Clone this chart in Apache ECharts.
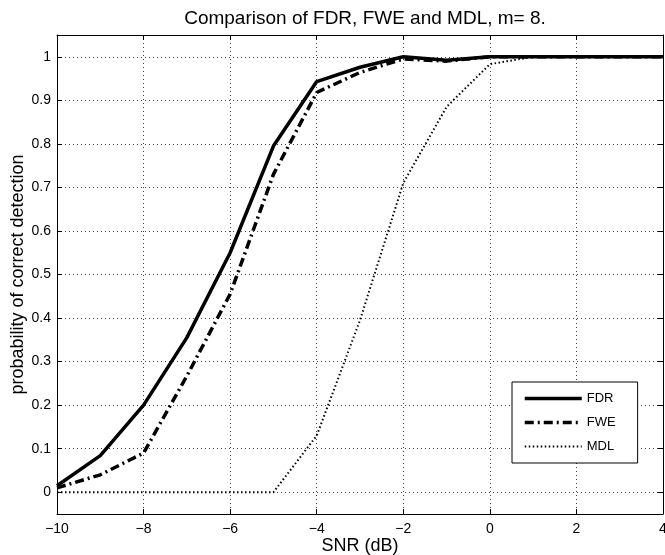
<!DOCTYPE html>
<html><head><meta charset="utf-8">
<script src="https://cdn.jsdelivr.net/npm/echarts@6/dist/echarts.min.js"></script>
<style>html,body{margin:0;padding:0;background:#fff}#c{width:665px;height:555px}</style>
</head><body><div id="c"></div>
<script>
const snr = [-10,-9,-8,-7,-6,-5,-4,-3,-2,-1,0,1,2,3,4];
const fdr = [0.015,0.084,0.2,0.355,0.55,0.795,0.943,0.976,1.0,0.992,1,1,1,1,1];
const fwe = [0.01,0.04,0.09,0.267,0.455,0.73,0.918,0.964,0.995,0.99,1,1,1,1,1];
const mdl = [0,0,0,0,0,0,0.13,0.395,0.71,0.885,0.983,1,1,1,1];
const xTicks = [-10,-8,-6,-4,-2,0,2,4];
const yTicks = [0,0.1,0.2,0.3,0.4,0.5,0.6,0.7,0.8,0.9,1];
const seriesNames = ['FDR','FWE','MDL'];

const FONT = 'Liberation Sans, Arial, Helvetica, sans-serif';
const pair = ys => snr.map((x,i)=>[x, ys[i]]);
const grid = {type:[1,3], color:'#444', width:1};
const fmtNum = v => String(v).replace('-', '\u2212');
const styles = [
  {color:'#000', width:3.5, type:'solid'},
  {color:'#000', width:3.5, type:[9,4,2,4]},
  {color:'#000', width:2, type:[1.5,2.5]}
];

const chart = echarts.init(document.getElementById('c'), null, {renderer:'canvas'});
chart.setOption({
  animation:false,
  backgroundColor:'#fff',
  title:{text:'Comparison of FDR, FWE and MDL, m= 8.', left:360, textAlign:'center', top:4,
    textStyle:{fontFamily:FONT, fontSize:19, fontWeight:'normal', color:'#000'}},
  grid:{left:57, right:2, top:35, bottom:41, containLabel:false, outerBoundsMode:'none'},
  legend:{orient:'vertical', left:512, top:382, padding:[10,22,10,11], itemGap:11, itemWidth:57, itemHeight:14,
    backgroundColor:'#fff', borderColor:'#000', borderWidth:1,
    itemStyle:{opacity:0},
    textStyle:{fontFamily:FONT, fontSize:13, color:'#000'},
    data:seriesNames.map((n,i)=>({name:n, lineStyle:styles[i]}))},
  xAxis:[
    {type:'value', min:xTicks[0], max:xTicks[xTicks.length-1], interval:2, position:'bottom',
     name:'SNR (dB)', nameLocation:'middle', nameGap:23, nameMoveOverlap:false,
     nameTextStyle:{fontFamily:FONT, fontSize:18, color:'#000'},
     axisLine:{show:true, onZero:false, lineStyle:{color:'#000', width:1}},
     axisTick:{show:true, inside:true, length:5, lineStyle:{color:'#000'}},
     axisLabel:{fontFamily:FONT, fontSize:14, color:'#000', margin:8, formatter:fmtNum},
     splitLine:{show:true, lineStyle:grid}},
    {type:'value', min:xTicks[0], max:xTicks[xTicks.length-1], interval:2, position:'top',
     axisLine:{show:true, onZero:false, lineStyle:{color:'#000', width:1}},
     axisTick:{show:true, inside:true, length:5, lineStyle:{color:'#000'}},
     axisLabel:{show:false}, splitLine:{show:false}}
  ],
  yAxis:[
    {type:'value', min:-0.05, max:1.05, position:'left',
     name:'probability of correct detection', nameLocation:'middle', nameGap:30, nameMoveOverlap:false,
     nameTextStyle:{fontFamily:FONT, fontSize:18, color:'#000'},
     axisLine:{show:true, onZero:false, lineStyle:{color:'#000', width:1}},
     axisTick:{show:true, inside:true, length:5, lineStyle:{color:'#000'}, customValues:yTicks},
     axisLabel:{fontFamily:FONT, fontSize:14, color:'#000', margin:6, customValues:yTicks,
       formatter:v=>String(Math.round(v*10)/10)},
     splitLine:{show:true, lineStyle:grid}},
    {type:'value', min:-0.05, max:1.05, position:'right',
     axisLine:{show:true, onZero:false, lineStyle:{color:'#000', width:1}},
     axisTick:{show:true, inside:true, length:5, lineStyle:{color:'#000'}, customValues:yTicks},
     axisLabel:{show:false}, splitLine:{show:false}}
  ],
  series:seriesNames.map((n,i)=>({name:n, type:'line', data:pair([fdr,fwe,mdl][i]), symbol:'none', z:5-i,
     lineStyle:styles[i], itemStyle:{color:'#000'}}))
});
</script></body></html>
